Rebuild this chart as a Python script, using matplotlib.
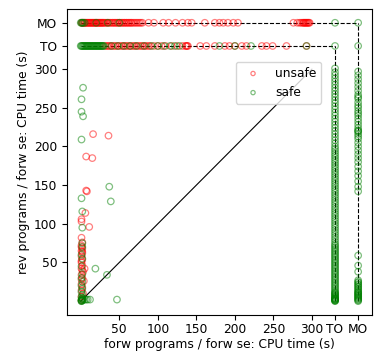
import matplotlib
matplotlib.use("Agg")
import matplotlib.pyplot as plt

plt.rcParams["font.size"] = 8.8

TO = 330
MO = 360

# unsafe: rev side out of memory (rev = MO), forw time given
unsafe_mo_row_x = [1, 2, 3, 4, 5, 6, 7, 8, 9, 10, 11, 12, 13, 14, 15, 16, 17, 18, 19, 20,
                   21, 22, 23, 24, 25, 26, 27, 28, 29, 30, 31.5, 33, 34.5, 36, 37.5, 39,
                   41, 42, 44, 45, 47, 48, 50, 51, 53, 54, 56, 57, 59, 60, 62, 63, 65, 66,
                   68, 70, 72, 74, 76, 78, 80, 88, 95, 107, 114, 123, 132, 139, 144, 161,
                   174, 180, 185, 191, 198, 204, 276, 281, 284, 286, 288, 289, 290, 291,
                   292, 293, 294, 295, 296, 297]
# unsafe: rev side timed out (rev = TO)
unsafe_to_row_x = [32, 34, 36, 38, 40, 43, 45, 48, 50, 53, 55, 58, 60, 63, 65, 68, 70, 73,
                   75, 78, 80, 83, 85, 88, 90, 95, 100, 105, 110, 118, 125, 132, 136, 137,
                   138, 139, 155, 163, 174, 187, 193, 200, 209, 215, 235, 241, 249, 267,
                   293]
# unsafe: both finished
unsafe_fin_x = [16, 36, 7, 15, 7, 8, 6, 1, 1, 11, 1, 5,
                1, 2, 1, 2, 1, 2, 1, 2, 1, 3, 1, 2, 4, 1, 2, 1, 3, 1, 2, 1,
                2, 1, 2, 1, 2, 1]
unsafe_fin_y = [216, 214, 187, 185, 143, 142, 114, 106, 103, 96, 82, 42,
                72, 68, 65, 62, 58, 54, 50, 46, 42, 38, 34, 30, 26, 22, 18, 14, 10, 6, 3, 1,
                76, 70, 64, 52, 40, 28]

# safe: rev side out of memory
safe_mo_row_x = [0, 1, 2, 3, 5, 20, 35, 50, TO, MO]
# safe: rev side timed out
safe_to_row_x = [0, 1, 2, 3, 4, 5, 6, 7, 8, 9, 10, 11, 12, 13, 14, 15, 16, 17, 18, 19, 20,
                 21, 22, 23, 24, 25, 26, 27, 28, 29, 30, 40, 48, 56, 64, 72, 82, 92, 100,
                 108, 116, 122, 128, 180, 200, 221, 293, TO, MO]
# safe: both finished
safe_fin_x = [3, 1, 1, 3, 1, 37, 39, 1, 2, 2, 19, 34, 47, 3, 5, 7, 9, 12,
              1, 1, 2, 1, 2, 1, 2, 1, 2, 1, 2, 1, 2, 1, 2, 2, 1, 2, 1, 2]
safe_fin_y = [276, 261, 245, 239, 209, 148, 129, 133, 116, 95, 42, 34, 2, 2, 2, 2, 2, 2,
              0, 1, 3, 5, 8, 12, 16, 20, 25, 30, 35, 45, 55, 60, 70, 75, 0, 1, 2, 4]
# safe: forw side timed out (forw = TO), rev time given
safe_to_col_y = [0, 0.5, 1, 1.5, 2, 2.5, 3, 3.5, 4, 5, 6, 7, 8, 9, 10, 11, 12, 14, 16, 18,
                 20, 22, 24, 26, 28, 30, 32, 34, 36, 38, 40, 42, 44, 46, 48, 50, 52, 54,
                 56, 58, 60, 62, 64, 66, 68, 70, 72, 74, 77, 80, 83, 86, 89, 92, 95, 98,
                 101, 104, 107, 110, 113, 116, 119, 122, 125, 128, 131, 134, 137, 140,
                 143, 146, 149, 152, 155, 158, 161, 164, 167, 170, 173, 176, 179, 182,
                 185, 188, 191, 194, 197, 200, 204, 208, 212, 216, 220, 224, 228, 232,
                 236, 240, 244, 248, 252, 256, 260, 264, 268, 272, 276, 280, 284, 288,
                 292, 296, 301]
# safe: forw side out of memory (forw = MO)
safe_mo_col_y = [297, 292, 287, 282, 277, 272, 267, 264, 262, 257, 253, 250, 246, 243,
                 240, 236, 232, 228, 224, 221, 220, 219, 216, 213, 210, 205, 200, 195,
                 190, 185, 180, 174, 168, 162, 155, 148, 142, 59, 46, 38, 27, 25, 24, 22,
                 21, 19, 18, 16, 15, 13, 12, 11, 10, 9, 8, 7, 6, 5, 4, 3, 2, 1, 0]

tick_vals = [50, 100, 150, 200, 250, 300, TO, MO]
tick_labels = ["50", "100", "150", "200", "250", "300", "TO", "MO"]

unsafe_x = unsafe_mo_row_x + unsafe_to_row_x + unsafe_fin_x
unsafe_y = [MO] * len(unsafe_mo_row_x) + [TO] * len(unsafe_to_row_x) + unsafe_fin_y
safe_x = (safe_mo_row_x + safe_to_row_x + safe_fin_x
          + [TO] * len(safe_to_col_y) + [MO] * len(safe_mo_col_y))
safe_y = ([MO] * len(safe_mo_row_x) + [TO] * len(safe_to_row_x) + safe_fin_y
          + safe_to_col_y + safe_mo_col_y)

fig = plt.figure(figsize=(3.8, 3.54), dpi=100)
ax = fig.add_axes([0.176, 0.110, 0.803, 0.865])

ax.plot([0, 300], [0, 300], color="black", lw=0.8, zorder=1)
dash = dict(color="black", ls="--", lw=0.8, zorder=1)
ax.plot([0, TO], [TO, TO], **dash)
ax.plot([TO, TO], [0, TO], **dash)
ax.plot([0, MO], [MO, MO], **dash)
ax.plot([MO, MO], [0, MO], **dash)

ax.scatter(unsafe_x, unsafe_y, s=22, facecolors="none", edgecolors="red",
           linewidths=0.9, alpha=0.5, label="unsafe", zorder=2)
ax.scatter(safe_x, safe_y, s=22, facecolors="none", edgecolors="green",
           linewidths=0.9, alpha=0.5, label="safe", zorder=3)

ax.set_xlim(-18, 378)
ax.set_ylim(-18, 378)
ax.set_xticks(tick_vals)
ax.set_xticklabels(tick_labels)
ax.set_yticks(tick_vals)
ax.set_yticklabels(tick_labels)
ax.tick_params(axis="x", pad=2.5)
ax.set_xlabel("forw programs / forw se: CPU time (s)", labelpad=1.5)
ax.set_ylabel("rev programs / forw se: CPU time (s)", labelpad=3)

ax.legend(loc="upper left", bbox_to_anchor=(0.554, 0.827), borderaxespad=0,
          markerscale=0.65)

fig.savefig("out.png", dpi=100)
